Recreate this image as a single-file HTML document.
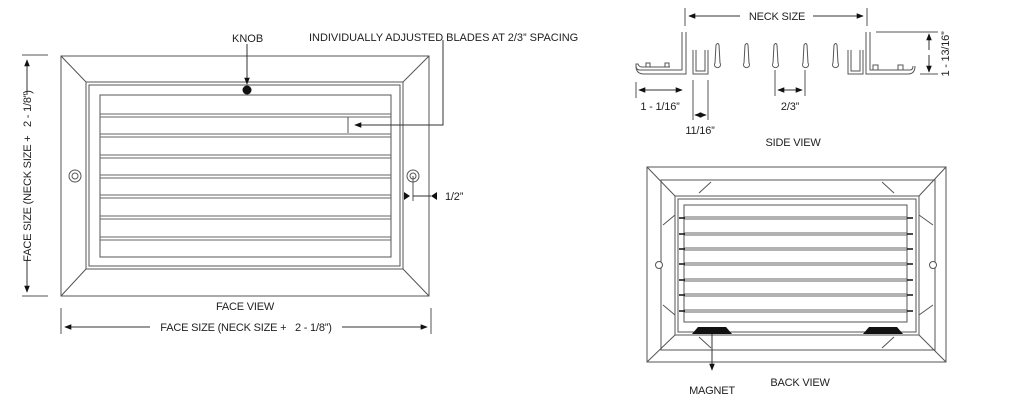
<!DOCTYPE html>
<html><head><meta charset="utf-8"><style>
html,body{margin:0;padding:0;background:#fff;}
svg{display:block;}
text{font-family:"Liberation Sans",sans-serif;font-size:11px;fill:#222;letter-spacing:-0.2px;}
</style></head><body>
<svg width="1024" height="417" viewBox="0 0 1024 417" xmlns="http://www.w3.org/2000/svg">
<defs>
<marker id="a" viewBox="0 0 10 10" refX="9" refY="5" markerWidth="7" markerHeight="7" orient="auto-start-reverse"><path d="M0,1 L10,5 L0,9z" fill="#111"/></marker>
</defs>
<g fill="none" stroke="#555" stroke-width="1">
<!-- FACE VIEW -->
<rect x="61" y="56" width="368" height="240"/>
<rect x="86" y="82" width="317" height="187"/>
<rect x="89" y="85" width="311" height="181"/>
<rect x="100" y="95" width="291" height="162"/>
<line x1="61" y1="56" x2="86" y2="82"/><line x1="429" y1="56" x2="403" y2="82"/>
<line x1="61" y1="296" x2="86" y2="269"/><line x1="429" y1="296" x2="403" y2="269"/>
<g stroke="#666">
<line x1="100" y1="114" x2="391" y2="114"/><line x1="100" y1="117" x2="391" y2="117"/>
<line x1="100" y1="134" x2="391" y2="134"/><line x1="100" y1="137" x2="391" y2="137"/>
<line x1="100" y1="155" x2="391" y2="155"/><line x1="100" y1="158" x2="391" y2="158"/>
<line x1="100" y1="175" x2="391" y2="175"/><line x1="100" y1="178" x2="391" y2="178"/>
<line x1="100" y1="195" x2="391" y2="195"/><line x1="100" y1="198" x2="391" y2="198"/>
<line x1="100" y1="216" x2="391" y2="216"/><line x1="100" y1="219" x2="391" y2="219"/>
<line x1="100" y1="237" x2="391" y2="237"/><line x1="100" y1="240" x2="391" y2="240"/>
</g>
<circle cx="75" cy="176" r="6"/><circle cx="75" cy="176" r="3"/>
<circle cx="413" cy="176" r="6"/><circle cx="413" cy="176" r="3"/>
<line x1="348" y1="117" x2="348" y2="133"/>
<polyline points="443,40 443,125 355,125" stroke="#333" marker-end="url(#a)"/>
<line x1="247" y1="44" x2="247" y2="84" stroke="#333" marker-end="url(#a)"/>
<line x1="413" y1="176" x2="413" y2="201"/>
<line x1="413" y1="196" x2="431" y2="196" stroke="#333"/>
<!-- vertical dim -->
<line x1="22" y1="55" x2="48" y2="55"/><line x1="22" y1="296" x2="48" y2="296"/>
<line x1="27" y1="95" x2="27" y2="60" stroke="#333" marker-end="url(#a)"/>
<line x1="27" y1="260" x2="27" y2="292" stroke="#333" marker-end="url(#a)"/>
<!-- horizontal dim -->
<line x1="61" y1="308" x2="61" y2="334"/><line x1="431" y1="308" x2="431" y2="334"/>
<line x1="150" y1="327" x2="65" y2="327" stroke="#333" marker-end="url(#a)"/>
<line x1="342" y1="327" x2="427" y2="327" stroke="#333" marker-end="url(#a)"/>

<!-- SIDE VIEW -->
<line x1="685" y1="8" x2="685" y2="26"/><line x1="867" y1="8" x2="867" y2="26"/>
<line x1="740" y1="16" x2="689" y2="16" stroke="#333" marker-end="url(#a)"/>
<line x1="813" y1="16" x2="863" y2="16" stroke="#333" marker-end="url(#a)"/>
<path d="M682,32 L682,70 L640,70 Q636,70 636,66 L636,64 L638,64 Q639,67 642,67 L670,67"/>
<path d="M686,32 L686,74 L644,74 Q636,74 636,66"/>
<path d="M646,67 L646,63 L650,63 L650,67 M665,67 L665,63 L669,63 L669,67"/>
<path d="M693,50 L693,74 L708,74 L708,50 M696,50 L696,71 L705,71 L705,50"/>
<path d="M848,50 L848,74 L863,74 L863,50 M851,50 L851,71 L860,71 L860,50"/>
<path d="M866,32 L866,74 L908,74 Q915,74 915,66"/>
<path d="M870,32 L870,70 L910,70 Q913,70 913,66"/>
<path d="M873,70 L873,65 L878,65 L878,70 M898,70 L898,65 L903,65 L903,70"/>
<path d="M716,45 q2,-3 3,0 l1,18 a3,3 0 1 1 -5,0 z"/>
<path d="M745,45 q2,-3 3,0 l1,18 a3,3 0 1 1 -5,0 z"/>
<path d="M774,45 q2,-3 3,0 l1,18 a3,3 0 1 1 -5,0 z"/>
<path d="M804,45 q2,-3 3,0 l1,18 a3,3 0 1 1 -5,0 z"/>
<path d="M834,45 q2,-3 3,0 l1,18 a3,3 0 1 1 -5,0 z"/>
<line x1="876" y1="32" x2="938" y2="32"/><line x1="920" y1="74" x2="938" y2="74"/>
<line x1="929" y1="50" x2="929" y2="34" stroke="#333" marker-end="url(#a)"/>
<line x1="929" y1="55" x2="929" y2="72" stroke="#333" marker-end="url(#a)"/>
<line x1="636" y1="82" x2="636" y2="98"/>
<line x1="660" y1="90" x2="639" y2="90" stroke="#333" marker-end="url(#a)"/>
<line x1="660" y1="90" x2="682" y2="90" stroke="#333" marker-end="url(#a)"/>
<line x1="693" y1="80" x2="693" y2="120"/><line x1="708" y1="80" x2="708" y2="120"/>
<line x1="700" y1="115" x2="695" y2="115" stroke="#333" marker-end="url(#a)"/>
<line x1="700" y1="115" x2="706" y2="115" stroke="#333" marker-end="url(#a)"/>
<line x1="775" y1="70" x2="775" y2="96"/><line x1="805" y1="70" x2="805" y2="96"/>
<line x1="790" y1="90" x2="778" y2="90" stroke="#333" marker-end="url(#a)"/>
<line x1="790" y1="90" x2="802" y2="90" stroke="#333" marker-end="url(#a)"/>

<!-- BACK VIEW -->
<rect x="647" y="167" width="299" height="195"/>
<rect x="661" y="180" width="274" height="170"/>
<rect x="675" y="196" width="244" height="139"/>
<rect x="678" y="199" width="238" height="133"/>
<rect x="684" y="205" width="223" height="117"/>
<line x1="647" y1="167" x2="675" y2="196"/><line x1="946" y1="167" x2="919" y2="196"/>
<line x1="647" y1="362" x2="675" y2="335"/><line x1="946" y1="362" x2="919" y2="335"/>
<line x1="699" y1="193" x2="711" y2="182"/><line x1="882" y1="182" x2="894" y2="193"/>
<line x1="699" y1="337" x2="711" y2="348"/><line x1="882" y1="348" x2="894" y2="337"/>
<line x1="663" y1="225" x2="675" y2="215"/><line x1="663" y1="305" x2="675" y2="315"/>
<line x1="933" y1="225" x2="919" y2="215"/><line x1="933" y1="305" x2="919" y2="315"/>
<g stroke="#666">
<line x1="684" y1="217" x2="907" y2="217"/><line x1="684" y1="219" x2="907" y2="219"/>
<line x1="684" y1="233" x2="907" y2="233"/><line x1="684" y1="235" x2="907" y2="235"/>
<line x1="684" y1="248" x2="907" y2="248"/><line x1="684" y1="250" x2="907" y2="250"/>
<line x1="684" y1="263" x2="907" y2="263"/><line x1="684" y1="265" x2="907" y2="265"/>
<line x1="684" y1="279" x2="907" y2="279"/><line x1="684" y1="281" x2="907" y2="281"/>
<line x1="684" y1="294" x2="907" y2="294"/><line x1="684" y1="296" x2="907" y2="296"/>
<line x1="684" y1="310" x2="907" y2="310"/><line x1="684" y1="312" x2="907" y2="312"/>
</g>
<g stroke="#111" stroke-width="1.5">
<line x1="679" y1="218" x2="685" y2="218"/><line x1="907" y1="218" x2="913" y2="218"/>
<line x1="679" y1="234" x2="685" y2="234"/><line x1="907" y1="234" x2="913" y2="234"/>
<line x1="679" y1="249" x2="685" y2="249"/><line x1="907" y1="249" x2="913" y2="249"/>
<line x1="679" y1="264" x2="685" y2="264"/><line x1="907" y1="264" x2="913" y2="264"/>
<line x1="679" y1="280" x2="685" y2="280"/><line x1="907" y1="280" x2="913" y2="280"/>
<line x1="679" y1="295" x2="685" y2="295"/><line x1="907" y1="295" x2="913" y2="295"/>
<line x1="679" y1="311" x2="685" y2="311"/><line x1="907" y1="311" x2="913" y2="311"/>
</g>
<circle cx="659" cy="265" r="3.5" fill="#fff"/><circle cx="933" cy="265" r="3.5" fill="#fff"/>
<line x1="712" y1="334" x2="712" y2="370" stroke="#333" marker-end="url(#a)"/>
</g>
<path d="M404,192 L410,196 L404,200z" fill="#111"/>
<path d="M437,192 L431,196 L437,200z" fill="#111"/>
<path d="M692,334 L698,327 L726,327 L732,334z" fill="#111"/>
<path d="M863,334 L869,327 L897,327 L903,334z" fill="#111"/>
<circle cx="247" cy="90" r="4.5" fill="#111"/>

<text x="232" y="42" textLength="31">KNOB</text>
<text x="309" y="41" textLength="269">INDIVIDUALLY ADJUSTED BLADES AT 2/3” SPACING</text>
<text x="445" y="200">1/2”</text>
<text x="245" y="310" text-anchor="middle">FACE VIEW</text>
<text x="246" y="331" text-anchor="middle">FACE SIZE (NECK SIZE +&#160;&#160; 2 - 1/8”)</text>
<text transform="translate(31,176) rotate(-90)" text-anchor="middle">FACE SIZE (NECK SIZE +&#160;&#160; 2 - 1/8”)</text>
<text x="777" y="20" text-anchor="middle">NECK SIZE</text>
<text transform="translate(949,54) rotate(-90)" text-anchor="middle">1 - 13/16”</text>
<text x="660" y="110" text-anchor="middle">1 - 1/16”</text>
<text x="700" y="134" text-anchor="middle">11/16”</text>
<text x="790" y="110" text-anchor="middle">2/3”</text>
<text x="793" y="146" text-anchor="middle">SIDE VIEW</text>
<text x="800" y="386" text-anchor="middle">BACK VIEW</text>
<text x="712" y="394" text-anchor="middle">MAGNET</text>
</svg>
</body></html>
